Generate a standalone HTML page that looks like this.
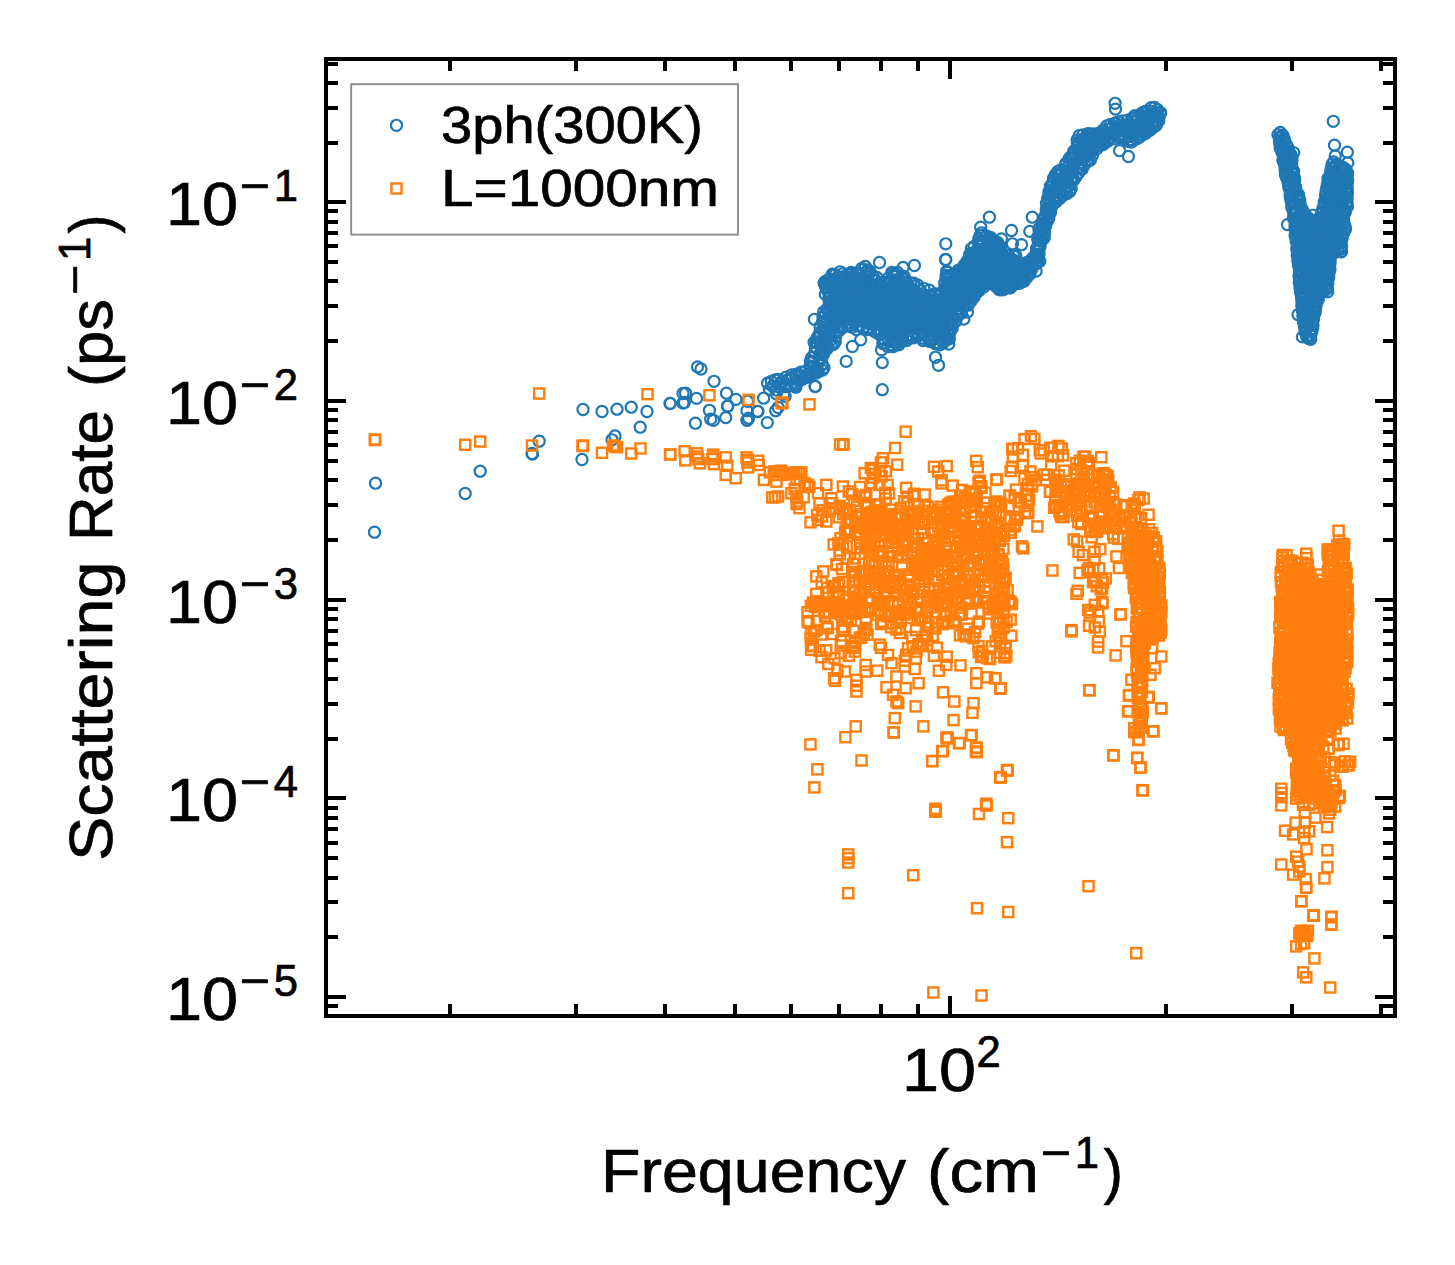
<!DOCTYPE html>
<html><head><meta charset="utf-8"><title>Scattering Rate</title>
<style>
html,body{margin:0;padding:0;background:#fff;}
body{width:1455px;height:1265px;overflow:hidden;}
svg{display:block;}
text{font-family:"Liberation Sans",sans-serif;fill:#000;stroke:#000;stroke-width:0.7px;stroke-linejoin:round;}
</style></head><body>
<svg width="1455" height="1265" viewBox="0 0 1455 1265">
<rect width="1455" height="1265" fill="#fff"/>
<defs><clipPath id="ax"><rect x="326" y="59" width="1069" height="957"/></clipPath></defs>
<g clip-path="url(#ax)">
<defs>
<marker id="mc" markerUnits="userSpaceOnUse" markerWidth="16" markerHeight="16" refX="8" refY="8" viewBox="0 0 16 16" overflow="visible"><circle cx="8" cy="8" r="5.55" fill="none" stroke="#1f77b4" stroke-width="2.2"/></marker>
<marker id="ms" markerUnits="userSpaceOnUse" markerWidth="16" markerHeight="16" refX="8" refY="8" viewBox="0 0 16 16" overflow="visible"><rect x="2.95" y="2.95" width="10.1" height="10.1" fill="none" stroke="#ff7f0e" stroke-width="2.4"/></marker>
</defs>
<path d="M1057.5 196.4 1064.0 191.2 1066.8 188.7 1067.9 183.4 1068.1 182.4 1068.5 181.5 1068.9 180.7 1069.4 179.9 1070.0 179.1 1075.8 172.8 1080.3 165.2 1081.0 164.2 1087.0 156.7 1089.8 150.6 1090.3 149.7 1090.8 149.0 1091.4 148.2 1092.1 147.6 1092.8 147.0 1101.2 141.2 1101.7 140.8 1110.0 135.8 1110.7 135.4 1111.5 135.1 1112.3 134.9 1113.1 134.7 1113.9 134.6 1114.8 134.6 1115.6 134.6 1116.4 134.7 1124.6 136.4 1132.4 137.7 1135.1 136.8 1140.3 132.3 1141.1 131.7 1142.0 131.1 1142.9 130.7 1149.2 128.2 1152.3 124.5 1156.5 117.9 1157.7 113.7 1156.0 111.6 1153.4 110.9 1146.5 113.7 1141.5 117.3 1140.9 117.7 1140.3 118.0 1132.0 122.2 1131.3 122.5 1130.6 122.7 1129.8 122.9 1118.9 125.3 1111.9 128.1 1107.0 130.9 1101.6 134.7 1100.8 135.2 1100.0 135.7 1099.1 136.0 1098.2 136.2 1097.3 136.4 1096.3 136.4 1087.7 136.4 1083.1 137.8 1081.8 139.2 1080.2 146.8 1080.0 147.6 1079.7 148.3 1079.4 149.1 1079.0 149.8 1071.5 161.3 1067.4 168.0 1066.9 168.7 1066.3 169.3 1065.7 169.9 1065.0 170.5 1057.9 175.6 1055.0 182.7 1052.0 194.9 1050.7 203.1 1056.7 197.1ZM1285.3 158.1 1287.8 172.8 1290.8 187.5 1290.9 187.7 1293.3 201.3 1293.4 201.4 1295.2 212.4 1297.0 221.6 1297.1 222.6 1297.5 230.6 1298.7 243.9 1299.1 247.0 1299.2 247.7 1299.3 252.6 1299.6 253.1 1299.8 253.8 1300.0 254.5 1300.2 255.3 1300.6 258.6 1300.6 259.0 1301.9 275.1 1301.9 275.4 1302.5 291.1 1304.3 305.6 1304.3 306.1 1305.2 320.6 1306.7 329.7 1308.2 335.5 1308.6 335.7 1309.4 335.0 1310.3 325.6 1310.3 325.4 1311.6 315.5 1311.8 314.6 1314.2 304.8 1316.4 295.2 1316.6 294.5 1316.9 293.8 1317.2 293.1 1317.6 292.5 1318.1 291.9 1318.6 291.3 1319.2 290.8 1319.8 290.4 1320.4 290.0 1321.1 289.7 1324.2 288.5 1326.2 280.5 1328.6 256.3 1328.8 255.5 1328.9 254.8 1329.2 254.0 1329.6 253.3 1330.0 252.6 1330.5 252.0 1331.0 251.4 1331.6 250.9 1332.3 250.5 1333.0 250.1 1333.7 249.8 1334.5 249.5 1338.0 248.7 1338.9 248.5 1339.0 248.5 1339.0 246.9 1339.0 246.3 1339.0 245.7 1340.0 237.6 1340.1 237.0 1340.3 236.4 1340.7 234.8 1340.9 234.2 1341.2 233.6 1341.5 233.0 1343.2 230.2 1343.2 224.9 1342.8 224.3 1342.4 223.7 1342.1 223.0 1341.8 222.3 1341.6 221.5 1341.5 220.8 1341.2 218.3 1341.2 217.5 1341.3 216.7 1341.4 216.0 1341.6 215.2 1341.8 214.5 1344.9 207.3 1344.9 174.9 1344.6 172.9 1340.1 168.0 1335.5 165.2 1334.6 164.9 1333.3 169.0 1333.3 169.1 1330.4 178.4 1329.3 187.6 1329.2 187.9 1326.8 202.7 1326.6 203.3 1324.2 213.2 1324.0 213.9 1323.7 214.6 1323.4 215.2 1320.9 219.5 1320.5 220.2 1320.0 220.8 1319.4 221.4 1318.8 221.9 1318.2 222.3 1317.5 222.7 1316.8 223.0 1316.0 223.2 1315.3 223.4 1314.5 223.5 1313.7 223.5 1312.9 223.4 1312.1 223.2 1311.4 223.0 1310.7 222.7 1310.0 222.3 1309.3 221.8 1308.7 221.3 1308.2 220.7 1304.5 216.4 1304.0 215.8 1300.6 210.9 1300.1 210.1 1299.7 209.3 1299.4 208.5 1296.7 198.6 1293.3 186.2 1293.0 185.2 1290.6 167.9 1288.9 156.5 1284.6 146.3 1284.6 146.2 1281.2 137.7 1282.2 144.3 1285.2 157.7ZM976.5 286.3 978.6 283.8 979.3 283.1 980.1 282.4 980.9 281.8 981.8 281.3 982.8 280.9 983.8 280.5 990.5 278.9 991.5 278.7 992.5 278.6 993.5 278.6 994.2 278.7 994.7 279.0 995.5 279.5 996.1 280.1 1002.1 285.8 1005.9 285.2 1010.4 281.4 1012.0 280.8 1012.0 280.0 1012.3 279.8 1013.0 279.2 1013.8 278.7 1014.6 278.3 1015.4 278.0 1016.3 277.8 1017.2 277.7 1018.0 277.6 1018.9 277.6 1020.7 277.8 1023.5 275.2 1029.0 269.4 1031.7 263.9 1032.1 263.3 1032.5 262.6 1034.6 259.9 1034.6 259.3 1029.5 264.4 1028.8 265.0 1028.1 265.5 1027.3 266.0 1026.4 266.4 1025.5 266.7 1024.6 266.9 1014.7 268.5 1013.8 268.6 1012.9 268.6 1012.0 268.6 1012.0 268.6 1012.0 260.0 1002.8 260.0 999.3 254.5 998.7 253.5 998.3 252.5 995.9 245.1 990.4 240.9 982.6 237.7 982.2 240.7 982.1 241.6 981.9 242.4 981.6 243.2 981.2 243.9 980.8 244.6 980.3 245.3 974.5 252.5 971.0 262.0 970.6 262.4 970.4 263.7 970.0 264.5 969.7 265.3 969.2 266.1 968.7 266.9 968.1 267.6 967.4 268.2 959.1 275.2 958.3 275.8 957.5 276.3 956.6 276.7 955.7 277.0 954.7 277.2 949.0 278.1 949.0 291.1 949.0 291.1 945.1 295.0 944.4 295.6 943.6 296.2 942.7 296.7 941.8 297.2 940.9 297.5 940.0 297.7 939.0 297.9 938.0 297.9 937.1 297.9 936.1 297.7 935.1 297.5 926.8 295.0 926.0 294.7 925.2 294.4 916.9 290.2 916.5 290.0 908.2 285.3 907.5 284.9 902.5 281.6 901.7 281.0 900.9 280.3 900.2 279.5 899.6 278.6 899.0 277.7 893.2 280.0 887.7 284.4 886.9 285.0 886.1 285.5 885.2 285.9 884.3 286.2 883.3 286.4 882.4 286.6 881.4 286.6 880.4 286.6 879.4 286.4 878.5 286.2 877.6 285.8 876.7 285.4 875.9 284.9 875.1 284.3 874.4 283.7 873.7 282.9 866.3 273.9 864.6 271.9 864.3 271.8 860.7 274.4 859.8 275.0 858.8 275.5 857.8 275.8 856.8 276.1 848.5 277.8 847.5 277.9 846.5 278.0 845.4 277.9 838.6 277.2 832.4 279.4 830.7 280.4 829.1 284.1 832.6 297.4 832.8 298.4 832.9 299.5 832.9 300.5 832.8 301.6 832.5 302.6 832.2 303.6 829.2 311.0 827.4 320.8 827.2 321.7 826.9 322.6 823.5 331.5 819.2 345.1 819.2 345.1 819.2 346.1 818.9 353.9 818.8 355.0 818.8 355.0 819.3 353.5 819.6 352.6 820.0 351.7 820.5 350.9 821.1 350.2 821.7 349.5 822.4 348.8 827.9 344.3 830.6 340.9 830.5 340.7 830.5 339.7 830.6 338.7 830.8 337.7 831.1 336.7 831.4 335.8 831.9 334.9 832.5 334.1 838.5 325.9 839.1 325.2 839.8 324.5 840.5 323.9 841.3 323.3 842.1 322.9 843.0 322.5 843.9 322.2 844.9 322.0 845.8 321.9 846.8 321.8 847.7 321.9 848.7 322.1 849.6 322.3 855.2 324.1 867.4 325.2 867.9 325.3 877.1 326.6 878.0 326.8 879.0 327.1 879.9 327.4 880.7 327.9 881.5 328.4 882.3 329.0 883.0 329.7 883.6 330.4 884.1 331.2 884.6 332.1 885.0 333.0 885.3 333.9 885.5 334.8 886.6 341.5 887.6 341.5 893.1 340.9 897.8 338.0 898.6 337.5 899.4 337.2 900.2 336.9 910.2 333.9 911.1 333.7 912.1 333.5 913.1 333.5 924.7 333.5 925.6 333.5 926.6 333.6 927.5 333.9 928.4 334.2 929.2 334.5 930.0 335.0 930.8 335.5 931.5 336.1 932.2 336.8 935.5 340.5 937.1 341.6 939.1 341.7 940.6 340.7 944.8 337.5 946.9 327.8 947.1 326.9 947.4 326.0 951.2 316.8 951.7 315.9 952.2 315.0 952.9 314.1 953.6 313.4 954.4 312.7 955.3 312.1 962.8 307.6 967.5 301.6 970.3 294.5 970.7 293.6 971.3 292.7 971.9 291.8 972.5 291.1 974.2 291.1ZM816.2 368.0 816.8 367.7 818.5 365.6 817.9 360.8 817.9 359.7 817.9 358.7 818.1 357.7 818.1 357.6 817.9 358.1 815.9 362.0 815.4 364.4 815.2 365.3 814.9 366.3 814.4 367.1 813.9 368.0 813.3 368.8 812.7 369.5 809.3 372.9 809.9 372.6 815.4 368.5ZM792.7 381.2 793.6 381.4 794.1 381.5 795.1 380.8 796.4 379.6 797.5 378.7 798.7 377.7 796.6 378.4 790.0 381.0 790.0 381.3 790.8 381.2 791.7 381.2Z" fill="#1f77b4" stroke="#1f77b4" stroke-width="1"/>
<polyline points="1327.3,263.4 1347.2,190.3 1297.2,255.4 1111.9,127.2 1291.7,164.2 1081.5,164.4 1347.4,193.5 1055.3,188.5 958.0,274.6 947.3,339.3 1340.7,242.6 817.4,370.5 888.4,326.0 1327.9,178.5 830.3,335.3 917.4,293.4 1296.2,237.9 1070.2,173.4 975.5,293.3 899.0,335.9 1044.4,221.8 1294.9,192.0 882.9,338.8 1022.8,264.6 988.5,243.2 924.6,334.5 1293.3,201.2 928.3,329.0 1007.5,274.1 1014.0,278.5 892.9,346.6 1293.2,174.2 1285.2,170.9 1049.7,204.3 1077.8,168.1 1279.3,137.9 1006.2,254.9 818.2,371.7 1077.1,139.9 1299.4,269.3 894.2,340.0 981.7,263.1 1304.8,280.7 841.3,328.6 1334.6,195.5 929.1,295.5 993.9,257.8 1347.6,173.2 836.7,298.4 950.7,294.4 956.0,273.4 1049.7,209.6 1321.5,214.0 1297.3,198.3 1160.3,113.3 1287.3,172.1 1316.1,224.5 1015.3,283.9 816.9,337.9 1333.1,203.8 1015.8,255.6 969.0,259.5 955.2,276.3 825.5,337.0 964.6,300.9 882.0,290.1 1138.5,134.8 850.9,276.9 1296.7,240.2 1282.7,135.2 1328.5,184.6 806.3,375.6 950.6,283.3 1299.0,276.1 1039.5,233.2 1082.9,134.8 876.9,277.4 791.7,374.8 1279.4,140.9 1287.9,181.1 865.3,266.4 1046.5,213.0 1073.7,180.0 942.0,292.1 1307.0,302.0 1131.6,142.0 798.9,374.6 964.7,264.4 972.1,270.9 1026.6,267.9 969.4,276.1 1328.7,277.0 967.4,312.0 1300.1,204.3 810.0,366.0 1338.1,208.1 896.4,339.7 861.9,268.3 1346.2,203.0 1039.0,249.5 1324.2,202.0 977.6,288.2 1299.5,239.2 1302.1,262.4 1301.6,244.9 1330.0,269.6 1291.7,157.5 1307.4,274.9 1288.2,152.1 974.1,288.2 1101.5,141.3 884.1,291.5 1113.3,131.4 1319.4,292.3 1122.1,130.0 1299.0,234.3 1057.3,195.3 1341.3,175.2 1156.3,120.7 992.3,277.4 975.3,293.9 1301.8,257.4 875.5,280.5 914.8,328.7 1279.7,143.8 1303.7,320.2 962.9,274.6 856.9,321.2 948.8,276.3 1306.4,308.4 1047.5,198.8 1336.2,171.5 872.0,287.1 848.0,322.8 951.7,275.1 943.5,337.4 1043.0,228.2 879.7,282.6 1315.3,309.1 1340.1,188.0 1044.6,216.6 895.1,280.0 837.7,330.7 821.6,351.7 1298.0,261.0 891.3,280.3 1098.3,133.6 1295.4,231.4 1037.0,247.9 1061.5,173.0 1297.3,251.3 812.7,373.5 1339.4,223.4 988.4,262.0 948.9,289.9 1324.6,270.3 847.5,279.3 1343.5,217.6 1324.4,215.7 1026.3,270.2 1291.8,207.5 1084.5,164.8 968.3,261.2 945.3,340.5 1127.7,120.1 1343.1,201.8 1095.7,145.0 795.6,374.4 960.6,271.9 937.7,334.2 949.3,295.0 1293.3,210.7 945.5,287.1 832.6,288.7 1299.2,254.3 1329.6,266.0 1339.7,166.2 1280.2,147.9 810.3,360.9 830.2,316.8 1331.3,190.1 968.9,265.9 831.1,339.8 825.0,321.0 991.4,241.7 1053.7,178.3 1134.0,134.2 1341.6,205.7 872.0,278.5 961.5,312.8 849.0,326.2 1131.5,124.8 1344.1,170.0 1030.0,274.0 1301.7,299.3 1302.3,309.9 1029.2,268.6 1047.0,221.7 1051.6,186.3 1305.8,222.7 1135.0,121.1 829.4,283.2 1112.4,133.8 1281.8,135.9 1347.6,179.7 971.4,292.6 841.7,325.7 1110.7,133.3 1328.6,181.3 1281.6,151.6 868.0,269.9 1087.3,153.2 933.0,339.0 1339.2,193.5 857.8,325.8 1045.6,226.1 1039.1,254.0 967.9,264.2 1157.6,109.7 1334.5,248.1 825.5,282.3 847.2,283.3 1303.8,307.4 975.4,256.8 1291.9,167.7 965.9,292.8 1336.7,235.3 1307.8,271.8 837.1,307.1 930.3,341.7 1292.2,196.7 905.5,280.0 900.8,339.2 923.0,338.3 1330.2,175.1 980.5,281.0 1088.8,146.3 1295.1,225.3 1322.3,282.0 1291.4,188.6 1316.3,302.8 969.5,286.1 1327.1,207.8 999.8,247.6 876.1,289.7 897.1,275.0 833.5,344.4 1303.7,220.2 960.6,288.6 1290.2,194.5 981.6,232.8 1156.3,125.3 1092.0,133.8 1288.1,166.8 1319.3,217.9 1008.9,255.8 1346.9,203.7 1327.0,261.2 829.5,336.3 825.8,286.6 979.8,288.3 1288.8,151.0 971.0,270.4 908.6,285.7 1137.4,127.0 1044.2,236.9 947.5,286.8 838.1,276.7 999.9,256.0 968.1,305.2 1311.3,310.8 834.7,321.5 1303.4,226.0 1087.5,161.4 1131.1,139.7 1135.3,129.4 1003.1,270.8 1300.8,225.9 1015.1,261.0 1316.0,306.1 1024.8,279.4 1000.8,289.0 1091.2,144.0 1304.1,213.0 1087.9,159.8 1318.5,295.6 851.2,272.4 846.7,325.5 1335.1,182.2 836.4,284.0 948.9,334.6 820.1,326.5 1066.0,163.1 1071.9,179.3 1308.8,338.5 984.5,275.1 1343.7,167.6 861.0,269.8 1321.1,290.1 1344.7,180.9 982.6,234.9 1343.3,220.8 1318.3,227.7 1330.0,185.7 980.7,276.5 864.1,320.5 1284.2,150.1 882.0,283.8 954.3,290.9 998.4,243.9 1303.1,282.1 1039.2,231.7 1055.1,190.0 925.7,297.1 1088.0,137.8 1333.3,242.1 1331.4,167.8 947.7,293.5 1325.5,198.6 1337.0,164.4 1300.1,288.3 1081.2,150.7 976.4,292.1 969.9,256.2 786.1,377.1 1071.5,156.3 1332.1,176.9 1289.5,177.4 786.1,386.7 1010.6,263.1 1307.8,321.9 954.7,280.8 996.6,250.5 847.9,274.4 1346.7,177.4 1156.8,113.1 1004.8,288.1 822.9,331.3 929.6,333.8 1318.6,286.5 990.5,237.5 967.7,303.3 1139.1,137.3 1283.3,153.4 1073.2,179.1 1142.5,112.8 974.3,266.7 1329.0,272.9 888.0,346.7 1003.8,261.2 892.3,274.3 937.2,337.4 914.0,290.9 979.4,283.1 993.4,255.6 1321.5,273.9 874.4,322.0 961.2,275.9 1097.1,148.5 1093.5,137.3 835.3,341.8 1069.9,190.3 943.6,326.0 1304.7,249.8 1303.9,231.5 1296.9,231.1 879.1,323.7 837.8,318.6 999.1,286.1 786.7,380.1 1318.3,299.6 1330.8,171.3 1072.3,164.5 1335.4,166.7 1056.1,201.8 1046.6,212.4 822.1,364.0 854.7,279.9 1028.4,262.7 963.9,304.7 1103.5,144.4 975.7,265.5 828.8,298.0 1327.9,279.7 1046.2,209.4 1338.0,250.0 929.0,339.5 1115.5,123.8 1002.5,281.5 1151.5,111.3 1015.2,272.3 1103.7,133.3 969.8,254.1 1139.7,124.8 1311.7,298.2 1289.8,184.8 1337.4,249.7 946.2,278.2 1326.0,191.5 1294.5,188.4 831.5,327.8 1303.0,266.3 957.7,280.6 949.2,328.7 1092.8,137.1 1295.1,228.1 1296.2,213.8 835.7,336.6 1067.3,173.6 1319.9,285.5 962.9,269.3 1131.1,126.9 1060.3,192.4 1338.6,217.3 840.2,319.9 1324.0,251.7 1142.6,113.0 1285.4,174.4 1038.0,240.3 816.0,368.4 873.8,331.1 1332.0,173.2 866.8,319.5 985.5,279.2 975.7,266.2 1009.6,286.3 1288.5,180.7 974.0,261.1 1342.1,226.3 995.7,264.1 1005.2,260.9 1317.1,223.9 1292.7,170.1 967.4,266.6 834.2,292.3 898.4,286.6 1021.9,280.2 998.2,278.4 1016.8,281.7 985.3,279.1 1067.3,186.4 1150.2,130.1 956.7,314.0 815.4,346.6 1151.9,125.2 888.1,339.3 1042.4,225.0 1018.6,264.2 969.0,288.4 999.7,262.6 1296.9,248.5 971.1,301.0 1304.1,299.1 990.7,248.5 882.8,343.5 987.6,264.3 999.3,276.8 828.1,281.7 1344.6,197.5 1295.9,203.3 999.2,265.9 812.6,361.6 989.4,283.8 952.3,325.2 1110.5,124.5 858.6,273.1 994.2,283.6 977.3,290.1 1144.3,112.1 1327.6,184.1 978.7,243.7 1114.8,129.8 842.7,273.7 1289.3,164.3 1328.3,219.0 1310.3,295.0 1067.1,180.9 1313.8,315.8 1013.9,256.1 1062.3,179.4 1143.2,125.0 1297.5,245.5 835.4,301.4 1084.2,156.9 1347.3,183.1 856.3,329.6 978.4,276.3 1020.2,280.5 1156.2,122.4 1316.8,220.4 969.3,257.5 814.8,352.9 1328.8,252.2 1042.5,237.2 1035.5,256.8 1080.4,163.2 990.5,276.2 1323.0,291.9 945.0,328.5 1290.3,197.0 1314.5,221.7 1303.1,234.4 805.5,377.6 1324.1,205.0 1333.0,252.9 1120.1,138.0 1145.9,133.4 1020.9,270.7 1001.7,252.5 827.1,322.3 976.0,251.1 1092.7,150.9 1154.4,107.5 1295.7,187.6 969.2,271.7 959.5,305.7 892.4,345.0 1338.7,239.0 1322.1,223.2 822.5,322.1 1092.7,148.1 1332.2,164.2 1046.9,220.1 1124.5,138.4 1051.9,206.3 1306.0,311.9 1077.9,149.8 1329.2,177.4 1331.5,194.8 1012.9,283.3 809.4,373.3 982.4,262.4 1298.5,265.4 999.3,246.1 1038.2,257.4 1286.1,144.3 1304.5,268.9 869.9,323.8 810.7,367.1 1301.9,306.2 977.3,278.9 1335.2,252.3 1134.8,115.7 832.9,275.2 978.1,260.5 1092.4,155.2 835.0,274.9 1288.2,159.3 1304.1,285.7 1082.2,169.1 1055.5,201.8 971.3,248.8 832.7,288.0 1010.9,282.4 825.0,350.5 1048.8,218.6 841.7,327.3 1124.2,138.1 972.8,287.3 1304.5,241.1 1305.6,277.0 945.0,289.0 1144.1,133.1 1345.4,229.5 840.1,271.8 1283.0,154.8 989.8,238.5 969.2,258.4 1036.5,248.7 1305.5,330.5 1108.3,129.5 906.2,282.4 1341.2,191.5 1013.9,276.1 795.8,385.4 956.0,286.7 1011.5,281.9 1331.2,201.3 1059.3,198.9 978.5,276.5 1002.1,286.2 1005.0,263.5 1304.7,259.8 981.4,242.9 877.8,330.4 1128.1,136.8 992.9,240.7 883.8,282.1 888.6,333.3 1071.2,181.9 1087.9,133.6 1038.4,245.7 784.9,384.0 1330.2,259.9 849.5,273.7 1330.2,254.1 854.4,322.7 887.8,278.4 985.1,276.3 1343.0,194.9 1159.1,117.1 1293.4,218.2 1011.8,280.7 1303.1,316.6 822.7,347.7 1012.3,268.8 972.7,294.2 990.2,273.5 958.6,315.2 945.0,298.5 1304.5,326.5 970.7,298.4 791.0,385.7 886.0,287.6 959.7,286.0 820.0,353.6 1064.0,189.8 1052.6,182.7 1017.2,268.2 917.5,284.9 1107.9,140.7 956.5,314.6 1017.4,277.5 1300.1,285.1 974.0,246.4 1311.1,330.7 1304.6,312.9 1062.6,195.8 1073.8,151.3 1044.7,232.7 829.3,301.4 1303.0,315.7 993.2,245.2 822.9,317.0 1323.0,212.4 1284.2,138.6 1285.0,164.9 959.2,293.8 948.4,309.8 911.3,335.1 829.5,298.0 1340.7,249.2 927.6,337.7 1294.7,179.9 963.9,277.6 873.9,324.9 1308.7,218.6 1299.8,272.0 873.1,276.2 1339.8,202.0 1340.6,179.2 852.7,279.5 1295.4,209.6 1087.0,155.5 980.4,245.0 1090.4,160.1 966.8,289.8 1079.1,135.7 995.5,283.5 825.4,314.0 944.6,283.0 1284.2,163.1 979.2,288.0 1004.1,279.4 916.6,328.7 1326.6,289.4 1300.8,207.6 971.1,261.5 931.4,297.0 1034.9,264.7 1035.8,254.6 1122.4,136.9 822.2,364.9 827.8,291.2 1115.3,122.9 1293.6,171.1 971.3,282.4 1308.9,218.6 880.1,283.8 1014.8,265.9 825.3,294.4 1136.5,138.9 1000.1,251.2 1282.9,160.3 1077.4,143.8 866.1,279.4 1293.7,213.8 1145.5,117.2 1325.8,218.7 1311.0,304.1 866.1,272.5 1295.6,220.4 1036.4,255.5 1294.6,184.6 907.0,335.7 1333.2,168.4 1347.1,197.7 1325.7,195.1 1291.1,201.1 1280.3,132.4 1298.3,194.1 1076.9,147.4 1285.0,167.8 1015.7,281.9 1067.4,179.7 1342.2,167.9 1014.9,271.5 1132.7,117.7 825.0,326.9 1095.2,134.2 957.9,308.4 1098.5,142.4 832.3,274.1 1310.9,220.5 1002.9,276.1 966.3,288.7 979.2,282.8 966.6,268.2 1307.1,337.2 918.5,334.3 1048.4,213.4 837.6,305.7 942.1,299.6 811.6,357.6 1299.3,236.8 1145.9,111.1 1079.2,153.7 1122.6,120.8 1142.2,135.1 997.4,242.3 1003.1,258.3 1002.7,289.4 1299.8,200.0 931.0,341.2 833.5,326.4 1301.9,275.7 1313.0,325.4 825.6,342.0 849.6,319.2 1323.6,259.0 985.3,237.1 1339.8,220.8 816.2,347.7 1329.7,197.0 821.1,358.4 1013.3,260.1 1060.9,182.6 1076.2,176.5 951.1,290.8 952.2,309.6 946.4,279.1 1069.4,164.0 1011.1,274.8 1014.2,270.6 1001.7,255.2 885.0,333.8 1304.1,322.6 1138.7,130.5 1284.4,140.8 1287.7,159.1 1160.7,112.7 1341.9,239.1 841.2,320.9 861.0,275.1 953.5,286.6 1345.3,211.0 1292.2,204.0 1106.7,125.9 1046.8,213.1 1039.1,236.2 1105.1,142.2 990.6,278.7 825.5,285.9 906.7,340.5 904.4,279.3 935.5,294.5 908.6,338.0 1050.3,186.1 869.4,273.5 952.1,328.5 1299.9,279.3 887.4,331.0 954.1,292.2 826.9,345.7 942.0,303.0 1303.4,256.0 1322.9,208.4 883.5,287.2 1060.9,193.8 1048.9,191.8 936.4,342.5 870.1,283.4 958.7,276.6 876.9,332.8 1306.5,327.3 943.1,342.7 925.2,295.3 971.1,286.0 1310.6,335.3 1327.3,287.1 965.2,271.6 946.9,291.9 1055.1,198.1 1345.7,184.2 937.1,299.9 884.0,325.8 929.3,290.1 1326.4,213.6 820.4,345.4 1135.3,121.2 1006.0,267.5 1058.8,182.0 1084.8,142.3 1290.8,154.5 1287.7,147.3 1326.3,284.6 830.1,296.0 1069.5,185.5 1320.8,227.1 1330.5,249.9 1049.9,198.0 835.8,333.1 978.7,239.2 1118.5,121.9 984.0,286.7 1307.3,226.1 955.8,321.3 1121.8,128.5 1341.7,215.0 1332.8,179.3 862.9,328.2 802.7,379.1 1302.1,303.2 1057.6,171.8 1307.6,313.7 1078.5,172.9 1013.1,275.1 939.9,344.9 1003.0,289.9 1315.2,312.4 1010.7,267.2 1007.8,277.9 1297.9,258.5 1048.7,204.7 1305.3,293.1 1281.6,148.0 857.6,273.3 913.8,283.2 958.0,270.4 986.9,236.2 1294.5,177.8 1021.2,276.5 967.8,289.1 805.2,371.5 1345.5,187.7 829.7,278.9 963.6,293.8 1322.3,211.7 1305.3,297.4 859.7,278.6 829.8,311.4 1341.6,246.4 1301.5,217.0 1316.1,291.5 1003.7,282.5 964.4,288.8 1080.8,149.0 1309.2,317.6 1326.0,256.1 1333.7,162.0 1334.1,236.6 1146.7,125.2 955.0,276.5 1072.1,159.1 1300.8,279.3 1299.0,260.2 1110.0,138.2 939.5,333.7 1345.3,226.9 1101.1,145.0 1150.8,114.0 986.5,254.3 1054.0,177.7 1014.6,265.4 1335.5,178.0 1050.5,212.5 1344.1,223.6 1104.5,135.6 1320.0,228.2 839.5,330.3 992.6,281.3 991.8,281.2 1128.0,141.4 1070.8,168.9 1025.5,268.5 1342.7,182.8 881.1,330.8 1302.6,288.2 1155.2,116.9 1311.7,332.0 879.8,334.5 960.3,301.8 939.2,304.0 1344.9,228.7 1142.2,125.5 948.3,286.7 1149.2,118.8 1307.5,284.0 950.3,282.5 1008.0,286.8 1141.6,117.4 1123.3,130.2 998.2,284.2 984.3,279.3 1040.6,238.1 996.6,287.1 1338.7,184.1 980.0,255.2 1000.6,248.6 823.5,354.5 809.5,375.8 1132.8,119.2 1009.1,278.9 1303.1,313.1 903.1,331.1 952.3,293.3 906.5,289.4 870.2,271.6 1005.9,266.4 1305.1,330.0 1343.5,212.4 1142.2,132.0 1086.3,136.2 965.2,293.0 1055.4,174.8 809.2,376.8 866.9,323.1 978.1,281.0 1309.6,325.7 934.5,293.6 1035.0,259.5 950.9,318.4 1114.5,138.8 908.3,288.1 1322.1,221.0 1302.2,209.6 1057.5,174.3 947.5,320.7 987.7,281.1 843.8,317.0 796.0,376.5 1286.3,177.1 1311.9,223.4 891.2,341.6 1343.8,232.7 1345.6,174.1 920.4,290.4 977.2,261.0 820.0,332.1 1301.3,263.6 1076.2,160.9 917.6,336.3 945.4,335.8 826.1,288.1 1313.5,319.0 884.4,339.2 898.5,341.9 971.9,258.6 986.5,261.1 939.8,295.6 1339.2,176.3 1305.4,215.3 1300.6,291.9 816.8,342.3 1147.5,129.6 1072.5,170.8 951.1,316.0 953.1,280.2 1313.5,224.7 979.3,290.6 867.6,329.6 1089.0,134.1 826.9,309.8 1040.1,245.9 1140.4,114.6 1340.3,170.7 1000.5,286.0 823.6,311.9 1303.5,322.1 962.6,267.7 1315.4,301.0 791.1,379.1 1036.8,248.6 949.4,338.8 913.4,337.8 928.8,301.4 995.7,256.9 910.7,283.0 982.8,256.3 962.9,280.8 1060.0,186.7 1301.4,237.0 886.1,282.4 827.8,333.1 1126.0,125.5 1100.3,132.6 1329.6,191.9 1298.3,217.5 1073.3,154.1 1001.5,284.0 1107.5,141.4 1033.3,257.5 824.0,351.3 813.3,361.3 1282.9,141.9 1026.3,262.7 1335.8,243.6 1061.3,169.7 1307.3,289.6 1305.9,215.6 1007.0,268.9 798.2,380.8 1049.0,194.6 1328.5,276.9 800.7,372.1 1126.1,124.6 1004.1,257.7 980.0,235.5 1089.8,151.8 868.6,327.9 1315.1,307.4 1009.7,258.3 838.8,281.6 1066.8,193.5 973.5,254.4 1311.1,315.1 1283.8,158.1 999.8,261.9 1031.7,266.0 1293.5,180.8 1289.9,190.6 1299.4,247.0 1083.1,140.1 1328.0,199.3 1305.6,319.3 830.8,306.3 999.8,264.6 1307.8,290.2 1046.5,203.3 954.3,295.5 991.2,275.4 1015.6,270.4 824.1,367.7 1080.7,159.3 1069.3,165.1 816.0,342.7 1312.2,322.9 1081.0,139.6 1041.1,241.0 826.8,329.7 1000.2,274.9 1007.2,284.8 1027.0,277.2 894.5,275.2 1329.5,203.4 1326.9,267.5 940.2,294.8 859.7,325.4 1327.6,283.9 1296.0,190.6 983.2,282.5 1347.0,187.1 896.7,344.0 1083.6,149.2 1347.5,206.8 1341.7,197.5 975.9,291.1 1326.8,279.3 1298.8,201.6 1011.6,284.1 852.2,327.4 816.0,373.0 993.5,252.3 981.3,285.5 1118.6,135.0 1001.5,277.6 831.3,344.7 1058.3,171.4 866.1,283.7 949.7,332.7 1067.5,171.9 966.0,281.0 965.2,266.2 1121.2,125.1 1149.1,116.3 981.7,249.7 1323.6,264.6 1299.3,282.7 993.3,239.9 943.1,341.7 946.2,275.5 1312.6,328.6 952.9,286.1 1342.8,209.0 801.1,379.7 1098.3,137.7 1120.3,128.1 1309.1,297.3 965.8,266.5 819.1,335.2 1069.4,158.2 1302.6,229.6 1337.5,220.9 994.7,253.0 951.0,323.3 1038.9,228.7 1306.7,336.4 1064.8,176.0 1295.1,235.4 1057.9,180.3 1330.0,263.4 964.0,272.9 969.2,294.5 944.9,294.4 1030.1,260.7 902.3,285.6 1151.1,107.6 1303.4,251.6 995.2,259.6 1346.4,192.0 1305.3,332.7 827.2,308.9 827.4,348.5 894.2,276.5 1344.6,213.3 1131.6,131.1 980.0,259.5 1346.0,169.8 1288.8,187.3 1031.5,269.4 845.2,275.9 1286.5,158.5 1008.1,261.2 1072.0,167.0 903.9,276.3 867.6,284.2 796.7,383.2 828.2,279.7 1301.7,222.3 1080.7,169.0 1298.8,198.4 957.5,278.7 1314.4,297.3 985.7,248.1 902.2,341.1 1301.3,295.2 884.2,342.9 1014.8,277.0 1152.4,124.2 1347.0,201.3 1103.2,130.0 1298.6,196.3 971.4,253.4 981.9,240.7 1337.5,243.2 967.2,261.0 1044.2,225.9 1026.0,272.8 1304.7,325.2 1065.8,192.9 1301.4,208.1 1053.5,182.6 897.6,272.5 818.7,362.6 917.5,335.5 1031.7,262.8 1153.8,127.1 832.8,314.2 1277.9,134.6 829.3,302.7 999.7,288.1 1037.8,261.2 1301.4,211.6 1294.9,186.1 1139.2,137.1 976.5,292.4 1098.5,145.6 1298.7,243.7 818.2,336.9 822.5,344.5 1294.7,220.6 973.9,297.4 1285.9,154.5 1071.2,188.4 1316.8,298.7 1327.0,212.9 1288.6,184.0 1335.8,239.4 935.6,343.8 1000.4,252.9 1051.4,190.7 1329.0,182.2 1325.4,272.5 1279.6,137.3 997.2,281.2 1326.8,187.5 832.6,326.6 1296.1,241.1 1313.1,308.0 1296.3,222.9 1065.5,165.4 994.7,274.7 1324.1,286.9 1305.0,266.3 914.0,285.8 891.4,286.5 956.7,286.8 1079.3,144.2 1141.0,116.4 1311.6,293.2 1291.9,160.3 1299.5,219.1 964.0,306.4 946.3,291.3 1036.6,262.0 961.2,287.1 923.8,288.3 1345.2,211.3 971.1,275.1 1147.7,126.6 953.5,279.4 1300.5,271.3 1342.2,236.9 1020.0,281.6 1325.4,277.8 1050.2,193.0 1012.3,262.0 960.7,289.7 1158.7,120.9 1330.8,255.5 1037.6,237.3 1028.0,274.4 1339.1,230.4 967.9,273.0 899.3,280.5 1144.6,121.4 1341.0,247.3 879.5,262.5 891.8,272.5 903.1,267.5 914.4,265.5 947.2,272.5 945.5,259.5 963.8,319.0 948.8,344.0 935.5,357.3 938.5,365.3 923.0,340.6 898.9,344.8 893.1,346.5 881.5,349.8 882.3,362.6 860.7,339.8 852.4,346.5 846.2,361.4 882.3,389.7 815.3,386.4 795.8,387.2 822.4,370.1 814.1,342.3 814.4,319.4 824.1,283.3 824.9,281.6 1000.4,289.9 1010.4,287.9 1019.5,283.3 996.2,285.8 989.4,217.2 1032.3,217.2 1011.5,230.5 1029.8,231.4 1012.4,243.8 1021.5,244.7 945.8,243.8 945.8,259.6 946.7,271.3 1115.1,103.3 1115.5,109.1 1128.4,156.5 1119.6,150.7 1069.7,191.5 1044.0,238.0 1039.8,261.3 1036.1,271.0 1024.0,281.3 1009.9,287.9 999.0,289.6 980.7,227.2 1001.5,238.9 670.4,403.4 684.4,402.5 685.6,393.2 696.5,398.4 697.5,366.9 701.0,369.0 714.0,381.3 709.4,410.3 695.4,423.2 710.7,419.1 713.5,420.3 726.5,393.2 727.5,406.3 727.8,406.0 725.7,417.6 735.9,399.4 747.6,401.3 746.9,410.7 746.9,420.1 747.3,420.3 748.6,418.2 757.6,411.3 757.9,411.5 763.6,398.2 767.3,422.6 775.7,410.7 778.2,407.5 767.6,383.2 771.3,381.3 775.1,380.0 778.2,379.4 772.6,386.3 776.3,390.0 780.1,387.5 783.8,393.8 785.1,396.3 776.3,393.8 769.5,389.4 780.1,383.2 783.2,381.3 815.1,386.5 375.5,483.2 374.5,532.2 465.2,493.5 480.2,471.2 532.0,453.5 532.5,454.0 539.2,441.2 583.0,409.5 582.0,459.5 602.0,411.5 617.0,409.2 631.2,407.2 647.0,411.5 640.2,427.2 615.0,436.0 612.0,439.8 670.0,403.5 683.0,393.5 683.0,403.0 1333.3,121.3 1334.5,145.2 1347.3,152.2 1335.2,155.9 1347.8,162.8 1287.5,224.6 1312.9,215.3 1312.3,223.7 1341.3,251.5 1293.7,152.6 1341.3,251.9 1327.7,283.7 1327.7,291.8 1298.0,314.6 1302.4,336.9 1310.7,339.4" fill="none" stroke="none" marker-start="url(#mc)" marker-mid="url(#mc)" marker-end="url(#mc)"/>
<path d="M1286.0 566.3 1286.0 586.1 1286.9 594.4 1284.5 607.4 1284.4 613.3 1289.1 620.3 1284.2 630.9 1284.2 650.0 1284.1 650.0 1284.2 652.3 1283.3 672.4 1283.3 683.7 1284.7 692.1 1283.1 700.3 1283.2 710.8 1285.2 713.4 1285.2 724.6 1296.2 724.6 1296.8 729.0 1300.4 729.0 1303.4 763.4 1302.7 788.4 1311.3 788.4 1312.2 763.2 1314.0 738.3 1314.5 729.2 1330.1 725.7 1330.7 717.1 1342.5 714.6 1342.7 711.4 1342.7 692.5 1342.7 692.3 1337.5 690.8 1337.5 670.1 1341.9 667.6 1341.9 636.3 1341.1 621.9 1342.8 617.9 1342.8 609.7 1341.9 603.5 1341.9 579.5 1341.1 567.8 1339.0 562.6 1338.9 553.3 1333.2 553.3 1333.4 561.7 1333.8 589.2 1307.5 589.2 1306.2 575.2 1303.5 567.9 1291.6 567.9 1291.3 566.3ZM1136.3 568.2 1137.9 584.6 1142.1 601.5 1142.6 610.6 1141.7 632.1 1141.3 640.5 1152.7 633.1 1156.5 630.8 1156.6 627.6 1156.6 627.6 1156.6 625.1 1156.4 621.1 1155.8 603.4 1155.0 586.8 1154.2 570.7 1151.7 554.3 1149.9 536.2 1147.7 535.0 1135.4 536.1 1131.8 539.1 1133.0 551.6Z" fill="#ff7f0e" stroke="#ff7f0e" stroke-width="1"/>
<polyline points="879.6,504.4 937.6,541.8 896.3,629.5 876.2,572.3 892.1,535.6 926.5,565.8 990.6,570.4 956.0,506.4 847.4,558.0 832.4,605.7 928.5,601.6 843.7,629.6 962.6,550.3 907.4,520.6 882.1,563.4 962.8,517.7 855.4,522.9 990.9,549.5 885.4,595.7 962.8,519.3 960.0,635.4 965.3,497.8 940.8,557.1 894.8,595.2 990.8,536.1 984.6,508.2 875.3,587.9 982.9,560.8 921.5,574.3 953.5,520.3 899.2,535.6 883.9,593.9 892.1,552.2 821.3,634.5 1002.7,564.3 827.6,628.3 815.3,606.6 967.3,576.0 994.3,570.0 927.1,571.6 958.8,602.1 871.2,541.1 931.6,570.9 971.5,613.6 860.2,573.5 928.9,566.1 919.9,568.4 974.7,582.2 859.8,638.0 939.2,553.3 924.2,523.9 961.5,581.5 844.2,608.7 852.6,647.8 931.9,517.7 940.6,595.1 913.2,515.0 928.2,627.2 907.4,545.0 949.5,530.9 864.8,528.9 923.0,559.6 975.3,511.9 812.9,646.2 826.2,650.3 977.0,499.6 832.6,634.0 853.9,500.7 869.6,579.0 877.6,510.5 999.3,599.7 858.3,517.1 854.2,576.2 855.3,630.9 979.6,586.9 993.0,560.4 923.0,646.2 901.2,516.4 852.9,609.0 888.4,564.8 945.0,540.9 877.8,614.7 896.6,592.3 853.8,613.6 834.8,586.0 969.6,635.7 897.0,611.5 946.1,615.9 990.8,560.3 969.8,491.4 884.4,524.6 966.5,501.0 947.8,560.4 846.7,521.8 868.8,548.6 842.6,608.4 970.4,563.0 926.6,559.1 888.3,530.6 960.8,591.6 924.9,505.8 951.7,503.2 999.4,505.8 859.9,594.1 944.0,534.0 970.3,574.8 852.4,605.0 977.0,541.3 839.7,550.5 916.2,607.8 956.3,601.8 879.8,512.1 881.6,551.3 907.8,579.9 951.3,528.2 853.6,598.0 882.9,527.8 855.6,610.7 855.5,640.9 880.8,533.5 990.1,512.3 955.9,592.0 885.5,566.5 920.6,608.3 880.9,647.8 999.8,573.1 969.9,507.2 991.7,533.1 943.1,605.6 915.5,560.6 972.3,499.5 846.1,513.0 911.7,512.7 963.3,519.6 924.6,573.7 835.6,508.8 928.5,565.8 853.1,564.1 981.4,511.9 842.2,627.0 902.2,564.8 929.1,548.9 951.9,557.1 863.1,571.1 863.7,633.2 828.3,592.5 967.9,565.4 962.8,518.2 1012.0,604.1 874.9,573.8 937.8,570.2 843.2,514.0 983.3,602.5 973.6,500.6 882.6,604.2 946.7,466.1 958.7,597.9 980.7,527.0 920.3,561.7 935.4,628.4 834.4,608.2 808.5,622.4 816.8,620.8 990.4,533.0 975.2,498.7 1003.7,579.1 972.7,493.2 896.3,575.0 860.2,553.8 910.4,606.6 846.7,546.2 925.1,617.2 877.6,571.3 887.6,522.2 904.5,614.6 908.6,574.4 877.7,524.1 964.0,503.1 907.1,533.6 971.7,501.9 870.6,519.0 860.7,548.2 961.4,531.7 966.1,636.4 927.3,570.7 899.4,613.0 928.2,622.4 950.6,611.6 955.8,571.5 969.0,585.3 993.9,542.6 870.3,539.0 885.6,535.6 911.6,552.9 854.7,643.1 854.8,558.4 895.6,529.3 867.5,634.7 811.6,645.5 959.9,583.7 936.9,647.7 977.0,540.8 879.2,510.3 992.8,603.7 1000.5,561.0 880.5,579.3 879.1,602.1 898.7,575.7 888.0,654.9 934.6,554.2 843.1,630.8 994.9,583.3 885.3,582.0 948.3,623.2 858.9,605.6 970.6,580.3 960.1,582.8 949.7,504.7 919.7,562.1 917.4,611.2 989.4,613.6 852.2,571.9 940.8,506.7 870.8,608.3 891.1,623.3 973.3,537.9 816.4,629.9 838.2,607.1 927.0,639.9 878.6,527.3 952.0,557.8 945.6,587.8 907.3,502.7 994.1,607.3 980.6,525.7 957.9,540.0 836.2,609.5 860.8,526.1 960.3,546.3 966.4,602.6 916.0,630.2 930.4,604.5 942.8,592.6 977.3,599.0 850.9,613.2 869.6,588.8 842.9,582.0 952.0,564.0 825.0,602.7 898.0,556.5 986.8,543.1 935.0,550.8 890.5,581.6 926.0,513.9 985.0,591.0 833.7,544.5 974.1,590.2 918.8,517.1 872.0,561.5 989.7,561.3 878.3,610.5 880.6,556.2 891.1,627.3 965.5,579.9 867.8,514.3 912.7,646.3 955.4,622.2 834.5,658.2 998.5,636.0 905.9,519.5 1001.8,587.0 934.4,570.2 874.5,564.4 868.1,516.3 981.2,657.0 874.4,513.8 888.0,616.2 944.4,554.8 999.1,619.5 1000.9,533.9 908.1,648.2 942.7,604.3 965.6,537.5 905.9,525.9 985.0,553.4 973.9,505.0 955.6,599.1 873.2,551.8 871.6,514.9 952.6,522.6 917.8,599.2 875.8,535.8 975.3,632.0 953.7,526.7 879.8,526.1 914.4,545.8 916.8,547.0 977.0,551.5 857.7,532.4 978.5,646.0 963.9,584.8 1003.6,598.1 867.0,547.4 875.4,504.6 924.5,585.3 981.3,487.7 952.8,505.5 885.7,575.4 924.0,579.3 865.6,503.1 935.7,512.2 865.1,547.9 967.4,538.8 931.2,607.5 895.0,588.2 852.8,580.4 965.9,558.1 975.8,598.4 868.8,515.5 917.2,611.8 960.7,521.6 908.2,525.9 840.9,641.1 912.2,592.0 1010.6,602.1 937.9,580.6 927.5,571.3 811.1,649.8 877.6,598.3 915.7,658.5 946.5,613.4 992.8,511.1 981.4,519.1 957.4,597.3 897.8,548.5 964.5,556.6 839.9,554.4 842.1,569.0 995.6,641.2 924.7,538.2 986.4,569.4 907.9,526.7 975.4,493.8 936.3,541.7 936.0,515.2 889.2,584.3 948.1,519.2 834.8,603.3 871.0,528.9 892.4,547.1 953.3,504.3 885.3,524.4 899.5,627.8 855.2,591.3 978.4,569.8 891.7,525.4 979.8,538.9 891.7,614.9 948.3,504.6 968.8,547.7 845.6,510.8 940.1,509.6 872.5,513.1 991.8,646.4 857.5,600.5 978.8,652.4 843.0,544.2 979.8,481.3 978.3,574.9 986.0,511.9 946.8,514.4 854.8,599.8 957.7,589.9 994.8,537.4 952.4,600.2 918.6,505.6 961.9,607.6 937.9,550.3 810.7,638.5 861.8,527.4 938.1,581.1 841.5,614.8 1000.6,568.6 891.4,518.8 989.0,541.0 985.7,545.6 995.3,600.3 918.4,644.2 942.9,624.2 849.7,530.6 975.0,516.3 901.6,527.2 840.6,538.1 927.0,598.4 878.3,551.1 839.2,584.9 899.9,633.0 970.8,546.6 850.0,533.0 947.0,579.4 983.9,560.9 1002.9,604.5 885.7,498.5 889.8,587.2 914.1,493.8 825.1,616.4 900.8,620.7 887.4,516.4 988.8,609.1 968.4,575.6 944.9,596.2 936.9,622.6 906.9,598.2 946.8,656.7 914.2,515.3 839.0,604.7 981.3,545.3 942.3,575.1 927.8,506.7 849.4,597.2 978.2,550.8 868.5,524.0 983.7,575.0 903.5,550.4 929.0,601.4 848.0,596.7 865.8,617.9 943.4,592.9 873.4,536.8 923.6,592.1 994.4,504.5 890.5,614.0 1003.0,581.1 962.3,532.3 927.6,552.3 865.7,582.1 866.2,629.9 918.9,578.6 943.1,529.9 956.1,571.9 1000.1,643.3 859.6,607.5 810.9,605.9 891.1,623.2 949.4,519.9 892.7,531.9 998.0,554.0 927.1,611.4 865.6,587.2 934.6,579.5 969.0,526.4 879.7,644.6 869.2,561.7 823.3,571.4 995.2,585.2 884.2,593.6 962.2,490.0 874.2,574.2 942.1,538.6 872.6,573.5 905.5,612.8 979.1,564.3 951.6,527.4 922.7,510.8 899.4,524.9 966.1,539.8 963.0,591.5 964.0,543.3 992.2,553.1 971.6,512.1 934.2,532.9 929.3,588.0 869.9,539.8 866.1,622.0 882.7,605.2 943.1,519.0 956.7,501.7 813.1,602.6 990.6,536.5 918.2,539.0 819.6,650.7 911.2,603.3 852.4,646.1 949.4,585.0 894.2,577.4 927.2,575.3 845.1,532.6 866.5,536.8 987.5,517.6 886.5,527.4 950.7,502.9 926.1,559.7 911.8,533.4 996.0,576.1 868.9,521.1 884.2,603.5 833.4,593.6 1009.0,601.0 912.3,557.1 842.4,611.5 932.7,635.7 974.6,535.0 950.9,531.2 836.4,596.2 881.2,614.6 898.6,601.5 951.5,598.6 833.0,587.3 860.2,541.8 966.3,532.3 917.4,611.4 920.0,619.9 895.9,538.5 817.2,601.2 1011.3,635.7 865.9,571.0 924.8,636.6 880.3,601.1 957.0,561.5 982.2,651.1 859.2,580.9 807.6,621.2 848.8,655.8 946.6,547.4 960.1,542.7 922.3,521.6 827.2,626.9 991.1,573.9 845.7,530.6 949.2,508.8 827.3,587.8 926.1,543.1 978.4,545.6 939.0,588.2 988.4,517.8 969.1,593.1 998.7,629.2 866.5,523.8 943.7,558.5 888.3,571.3 948.2,566.8 931.1,529.6 869.6,602.1 960.3,510.6 974.4,554.9 927.7,598.4 821.5,657.2 898.5,546.7 965.9,499.7 896.7,539.0 985.5,492.6 938.1,526.3 979.7,480.7 888.2,601.3 870.2,526.9 869.2,610.1 955.5,513.7 931.0,550.6 966.4,598.8 868.6,544.6 931.7,563.4 936.7,512.5 829.1,613.3 952.8,566.4 1003.9,627.5 989.3,537.3 880.9,580.2 991.9,521.4 851.0,519.8 861.8,608.0 975.4,529.0 895.7,514.0 1000.0,652.8 853.1,590.9 906.2,654.9 966.5,545.8 978.9,621.6 827.6,603.0 995.1,523.4 874.6,543.4 986.1,597.8 910.4,577.3 871.7,601.2 955.3,590.3 913.2,593.9 882.8,621.6 878.5,544.8 960.1,495.6 872.5,519.1 941.3,512.8 1003.6,611.1 965.8,527.4 854.5,572.9 978.5,528.4 892.7,537.4 863.7,525.2 900.3,585.2 961.9,614.3 819.8,605.0 860.5,589.6 878.0,556.1 857.4,535.0 895.3,542.8 884.6,529.0 886.0,533.9 999.8,561.5 977.9,623.7 845.8,617.4 904.6,613.6 900.2,514.2 942.9,561.2 891.6,509.8 969.5,600.8 922.3,533.2 837.0,593.0 946.3,522.0 949.5,583.7 981.3,486.3 916.7,564.8 985.8,563.5 900.6,508.2 918.4,523.3 922.7,551.1 836.9,565.0 959.4,532.7 881.2,581.2 890.5,583.9 839.7,505.9 912.2,637.0 857.1,506.6 886.4,520.0 985.2,597.0 807.6,612.1 875.6,562.6 928.4,595.9 821.7,582.3 977.1,527.6 948.6,576.6 1006.4,656.0 872.0,511.7 933.3,546.5 847.6,619.4 907.5,618.1 922.3,617.9 921.4,575.0 878.4,577.8 868.6,526.9 836.4,564.1 831.5,603.7 923.9,556.4 834.3,612.1 865.1,610.8 912.4,519.6 1000.7,601.6 931.8,556.8 872.2,513.5 892.8,604.1 953.7,620.5 881.1,624.0 905.9,590.0 972.8,534.3 868.9,573.9 962.7,549.7 998.5,503.6 980.7,529.5 859.6,603.2 943.0,555.9 917.0,511.3 925.0,520.5 877.8,577.5 940.4,536.5 961.1,614.0 838.4,543.1 867.8,506.3 933.1,517.4 963.6,569.6 903.3,595.9 850.7,620.0 884.7,615.5 875.7,582.1 985.4,591.7 838.9,591.9 963.6,634.4 955.5,548.3 914.7,569.0 841.7,645.5 959.0,614.7 902.7,545.6 888.7,514.5 861.0,637.4 929.7,557.6 952.8,501.7 949.4,593.1 838.4,583.1 892.5,580.8 869.2,526.5 824.4,611.6 846.9,600.0 943.6,615.1 832.9,586.9 913.5,522.3 940.2,518.1 905.0,541.4 904.5,609.7 988.7,606.7 889.9,556.3 893.3,583.3 925.8,573.6 973.4,638.1 951.5,522.9 988.5,587.3 937.9,601.4 957.2,555.8 847.4,529.7 883.0,553.3 939.5,598.6 880.3,544.4 875.7,584.7 1003.4,569.2 854.9,651.6 838.0,595.8 906.9,554.5 887.1,520.3 978.5,482.5 975.9,554.2 882.1,523.9 855.7,582.3 967.6,628.7 876.5,514.0 861.6,514.3 1003.1,599.6 953.2,575.7 912.9,529.0 941.9,621.8 977.0,601.3 1001.2,504.1 821.9,602.0 991.1,529.3 997.7,629.3 871.7,513.0 992.4,576.3 955.4,622.5 958.4,524.9 853.7,606.2 921.6,549.3 925.9,634.9 866.2,513.2 884.5,595.1 921.0,644.1 811.0,633.5 878.2,505.4 883.7,517.9 936.0,603.6 918.2,567.0 915.5,567.1 973.0,587.5 909.7,585.8 972.8,564.1 973.2,555.8 903.2,529.5 901.9,557.5 868.6,584.8 1010.7,619.6 911.1,590.3 855.9,521.5 941.5,483.4 864.9,497.1 976.1,460.8 887.6,484.8 885.9,471.2 952.7,485.6 914.3,494.4 889.0,493.5 934.0,466.8 938.3,471.5 941.7,480.3 924.7,494.6 913.4,496.0 906.1,487.8 904.2,501.3 897.2,464.7 881.6,476.3 885.1,492.8 873.2,477.6 977.8,467.2 907.3,496.8 860.1,487.0 870.8,468.0 881.0,462.4 1017.0,516.8 1026.9,499.9 1015.0,524.7 1017.1,519.5 1027.4,506.0 1015.3,519.7 1008.8,506.1 1020.8,502.0 1015.9,489.6 1018.8,501.6 1024.8,511.9 1010.0,530.3 796.6,504.0 822.6,510.3 803.7,497.2 809.4,486.8 1089.3,518.4 1134.1,503.5 1057.7,486.2 1094.6,529.9 1078.7,490.4 1058.4,445.9 1097.0,474.0 1100.3,522.1 1105.0,492.7 1043.8,474.7 1091.7,537.3 1116.4,523.7 1061.3,516.9 1055.7,490.4 1014.6,498.1 1087.2,463.7 1028.2,484.0 1076.7,469.2 1030.4,471.4 1123.8,525.9 1025.8,495.7 1139.6,497.4 1050.3,447.7 1096.5,506.4 1051.2,464.9 1126.4,505.1 1063.0,455.3 1143.7,498.5 1076.3,463.3 1076.7,512.1 1105.7,485.5 1032.0,486.5 1091.8,474.6 1039.8,450.2 1148.6,514.8 1057.8,456.1 1034.4,438.8 1093.3,486.1 1043.7,450.3 1102.2,515.8 1066.4,484.5 1017.9,448.3 1032.0,484.0 1097.9,526.4 1061.1,483.8 1079.3,497.8 1031.6,477.2 1083.4,456.8 1109.6,511.7 1027.7,489.9 1088.8,492.3 1040.7,453.5 1086.5,484.4 1010.6,471.0 1079.8,460.7 1084.6,496.0 1105.6,474.6 1109.8,496.1 1096.1,487.8 1089.0,463.1 1012.6,449.4 1061.8,448.5 1092.5,485.7 1066.6,492.8 1059.1,511.2 1090.5,531.0 1050.2,491.7 1107.6,475.9 1083.9,494.6 1085.3,456.6 1107.8,479.5 1080.6,508.5 1113.1,534.2 1081.3,470.3 1035.5,480.2 1045.8,480.0 1113.1,491.9 1012.3,448.8 1090.7,517.7 1117.9,538.7 1097.2,531.2 1068.8,504.5 1064.4,470.7 1113.7,537.6 1099.8,495.0 1101.3,457.2 1079.2,483.2 1093.6,486.9 1113.6,516.1 1030.9,436.2 1087.7,461.1 1080.9,482.9 1052.7,456.3 1102.0,521.9 1063.6,517.0 1119.7,518.8 1063.8,491.3 1076.4,474.6 1138.4,500.1 1099.3,475.3 1129.8,522.1 1070.9,506.2 1095.6,496.2 1114.2,520.1 1098.3,496.5 1108.3,503.8 1109.8,526.0 1104.3,526.0 1056.8,488.0 1077.8,485.1 1072.8,490.6 1110.9,509.7 1060.4,491.8 1108.3,481.0 1096.1,532.0 1083.8,476.8 1055.2,481.8 1088.6,479.2 1131.7,506.8 1134.7,504.7 1075.8,502.9 1090.4,531.6 1046.8,474.8 1104.2,499.5 1095.1,523.8 1055.2,505.0 1066.0,498.2 1055.6,479.8 1058.9,475.4 1094.6,502.1 1104.4,480.1 1062.8,511.5 1055.4,498.7 1136.1,517.2 1104.1,475.9 1092.8,516.5 1141.1,518.2 1078.2,522.2 1100.5,496.2 1124.8,516.6 1131.7,522.9 1081.1,511.2 1076.9,515.6 1099.3,483.4 1067.2,505.9 1110.0,509.9 1109.4,515.9 1102.7,528.3 1071.8,505.1 1122.7,517.4 1116.5,521.1 1103.4,473.2 1056.4,505.8 1054.2,507.7 1084.8,491.3 1101.5,504.5 1076.5,504.3 1116.2,527.1 1129.3,521.4 1110.7,487.5 1123.5,506.1 1081.2,524.0 1070.6,510.1 1103.3,521.8 1107.2,507.0 1091.4,505.8 1049.9,491.8 1114.4,504.3 1089.8,506.5 1099.7,523.4 1064.8,486.7 1060.4,514.2 1091.1,492.0 1076.1,488.2 1134.9,518.9 1094.4,551.8 1077.2,541.4 1090.3,612.6 1100.3,549.2 1102.0,579.7 1077.7,590.8 1079.7,572.9 1093.1,582.1 1098.2,611.2 1078.6,551.8 1094.8,604.8 1100.7,589.4 1093.3,569.5 1094.6,559.4 1087.5,570.3 1103.0,582.7 1094.8,627.5 1096.7,586.3 1088.9,568.0 1099.2,568.3 1102.1,588.3 1105.8,578.4 1083.0,555.1 1089.5,571.9 1095.0,580.8 1073.8,539.4 1001.3,571.1 994.5,609.3 1001.2,532.9 993.3,554.1 993.3,605.5 1010.3,519.6 993.0,577.3 996.4,524.5 998.7,555.5 999.1,574.2 1005.6,577.7 1000.1,583.2 1010.8,532.8 1002.0,559.4 999.1,589.1 996.8,528.7 993.7,601.0 999.8,540.8 1014.4,526.4 992.8,603.6 1007.6,590.1 992.6,532.4 999.4,516.6 995.9,515.1 993.0,573.6 999.0,522.7 1010.2,518.3 997.8,559.5 1004.3,606.0 1003.4,548.9 1004.2,587.2 1004.0,536.0 1299.8,777.0 1345.0,761.3 1296.2,773.0 1339.8,795.9 1324.6,771.6 1324.7,787.5 1321.4,740.8 1333.5,792.2 1298.6,762.6 1296.9,750.7 1322.3,791.3 1318.4,781.6 1318.6,772.0 1328.8,748.6 1308.8,780.9 1297.8,782.2 1334.4,762.5 1343.6,743.7 1296.7,795.1 1300.2,796.3 1324.1,776.6 1320.3,786.9 1323.0,783.4 1292.1,743.0 1313.4,738.7 1295.6,747.9 1291.0,739.1 1313.2,737.4 1330.4,775.6 1318.5,771.1 1293.5,746.4 1342.4,766.7 1319.6,785.8 1333.2,780.8 1334.3,765.1 1310.1,761.8 1338.7,744.1 1323.4,746.9 1294.3,750.4 1306.8,775.9 1305.3,750.0 1335.6,790.2 1309.0,790.1 1324.8,758.8 1320.5,758.3 1301.2,747.2 1299.7,765.2 1300.1,757.7 1296.2,751.2 1321.5,791.2 1316.0,773.3 1338.4,745.1 1328.6,793.0 1304.0,783.2 1327.5,739.9 1315.8,738.8 1320.4,793.7 1314.8,794.7 1295.0,747.2 1350.1,761.8 1305.7,794.1 1296.3,768.7 1323.8,789.8 1324.9,777.5 1303.8,747.6 1347.9,765.5 1330.2,762.0 1348.7,764.7 1315.2,795.7 1302.9,752.7 1280.9,655.1 1308.3,589.9 1347.0,617.1 1141.8,691.9 1299.5,786.1 1291.2,621.8 1152.1,532.8 1329.6,568.1 1340.9,695.9 1285.1,670.5 1141.6,565.5 1329.0,711.5 1315.2,756.9 1340.7,620.7 1347.4,634.1 1286.5,589.9 1132.9,565.5 1344.4,590.9 1335.8,671.2 1342.9,549.3 1127.9,543.4 1336.0,657.0 1345.6,668.0 1333.7,567.1 1142.0,662.8 1141.4,727.9 1277.5,682.7 1289.2,728.8 1311.9,755.1 1156.9,581.4 1139.9,630.2 1143.3,597.9 1344.2,622.8 1338.1,719.4 1146.0,545.3 1328.4,587.7 1294.4,618.3 1143.7,643.2 1140.2,602.3 1299.2,752.6 1138.1,658.1 1148.5,611.9 1287.5,564.0 1139.6,530.5 1290.4,563.1 1128.9,559.9 1142.2,607.9 1285.9,686.2 1140.7,685.1 1161.3,605.5 1342.0,610.4 1280.5,633.1 1326.0,725.3 1145.7,632.7 1330.4,731.3 1312.7,585.2 1336.2,690.5 1334.2,565.9 1315.0,767.0 1333.4,591.9 1331.2,578.1 1136.1,647.3 1338.0,575.8 1134.0,535.9 1305.8,776.6 1342.5,720.4 1134.2,569.9 1312.4,581.4 1282.9,561.2 1281.8,607.0 1151.4,603.5 1301.5,727.4 1146.0,595.0 1279.6,672.3 1288.7,694.8 1138.6,687.1 1339.5,669.9 1286.7,555.3 1346.7,573.4 1295.7,741.2 1280.2,644.8 1299.8,781.2 1154.5,590.4 1286.3,647.8 1337.0,640.6 1304.4,572.6 1341.1,547.0 1306.2,749.7 1312.0,761.2 1339.7,603.5 1159.2,583.4 1341.7,674.6 1138.6,655.4 1320.2,589.3 1328.7,564.4 1329.5,549.5 1155.6,617.4 1330.1,722.4 1300.4,775.2 1327.9,571.0 1312.3,769.7 1342.7,569.0 1279.4,627.4 1338.2,549.0 1138.9,608.4 1285.5,711.8 1338.2,627.1 1147.3,551.3 1145.9,535.5 1298.6,571.3 1154.9,633.4 1337.9,584.4 1347.2,643.4 1280.8,648.8 1138.5,677.9 1155.6,561.4 1137.3,659.0 1298.1,791.1 1315.6,750.3 1153.3,592.6 1280.4,713.3 1345.1,706.7 1342.8,690.1 1307.8,564.7 1291.7,594.9 1304.5,581.9 1305.7,765.1 1299.9,727.3 1135.9,597.9 1307.3,792.4 1159.1,607.6 1279.6,682.9 1342.0,607.0 1141.4,654.9 1142.6,573.5 1282.6,557.4 1158.9,595.1 1141.5,672.4 1290.3,720.2 1283.0,714.1 1340.8,714.3 1297.3,571.0 1296.9,728.8 1329.1,585.8 1316.8,779.1 1152.5,638.1 1281.5,603.7 1140.7,646.9 1147.0,542.6 1134.8,554.0 1305.5,563.5 1140.6,709.1 1343.6,554.4 1305.7,756.9 1328.0,730.2 1304.0,591.7 1315.6,740.6 1316.6,765.7 1283.1,595.2 1280.2,602.2 1330.5,564.5 1156.1,541.3 1139.7,661.3 1308.1,757.8 1289.5,562.0 1330.6,719.1 1157.2,561.7 1343.2,577.3 1342.5,562.5 1155.0,607.2 1318.8,745.3 1282.5,643.1 1149.9,639.3 1130.4,555.7 1159.8,591.5 1336.8,620.2 1134.9,584.6 1136.7,668.5 1342.6,680.5 1299.3,775.7 1148.9,629.3 1326.1,732.0 1156.1,548.4 1342.7,559.5 1338.4,592.7 1139.2,618.0 1142.3,530.8 1143.1,587.8 1139.8,613.5 1136.2,593.7 1137.3,661.6 1338.7,658.5 1289.0,640.9 1283.3,590.6 1134.7,571.8 1282.5,665.4 1154.5,561.3 1335.1,621.7 1288.7,669.5 1289.2,659.4 1295.2,721.7 1289.8,727.5 1345.5,651.4 1139.2,708.7 1283.0,627.6 1337.5,677.8 1130.6,543.3 1284.1,613.6 1300.5,574.8 1137.0,532.3 1305.5,577.4 1318.8,736.3 1158.5,577.8 1136.2,578.3 1345.8,577.3 1337.9,673.3 1313.1,586.4 1301.2,785.9 1348.1,614.1 1312.4,785.9 1146.7,537.1 1303.2,786.3 1319.2,586.8 1283.5,619.2 1316.3,785.8 1133.8,584.0 1289.5,636.6 1280.1,677.1 1344.0,657.1 1140.3,713.3 1143.6,620.9 1299.2,745.4 1287.9,692.1 1343.2,559.1 1347.4,599.3 1334.3,590.1 1324.4,723.6 1340.8,611.6 1149.9,632.9 1281.0,612.0 1337.9,571.9 1310.4,591.1 1280.8,575.4 1285.7,636.7 1340.0,615.8 1338.8,709.2 1280.9,572.0 1334.9,717.6 1153.6,589.2 1342.9,543.9 1315.0,735.7 1160.4,633.0 1345.9,583.3 1318.3,584.5 1329.9,559.7 1283.1,590.1 1308.9,572.6 1347.3,662.2 1296.6,733.9 1335.3,665.7 1313.6,733.7 1130.4,554.7 1326.1,589.3 1131.3,533.8 1288.8,705.3 1298.8,753.6 1154.1,595.5 1298.7,782.0 1313.1,784.7 1141.6,669.1 1306.5,770.3 1278.4,669.2 1337.2,552.8 1149.3,561.9 1156.5,630.7 1141.3,628.4 1152.8,603.6 1286.8,580.5 1300.4,767.4 1301.4,562.7 1345.5,568.3 1295.4,737.9 1145.8,619.7 1140.1,649.2 1159.8,595.6 1152.5,571.5 1344.4,624.0 1338.5,564.0 1316.4,770.7 1279.2,693.5 1147.5,599.0 1346.8,629.4 1136.6,622.0 1136.0,578.0 1341.2,686.3 1140.9,580.3 1335.6,694.8 1291.1,603.2 1137.5,682.4 1329.8,581.7 1280.2,615.0 1298.1,739.5 1279.5,660.1 1282.2,567.3 1157.4,551.2 1345.8,713.0 1156.6,611.3 1283.0,632.6 1138.9,728.0 1346.1,607.3 1131.8,572.9 1320.2,725.4 1336.3,695.3 1333.5,682.2 1343.8,694.5 1155.0,569.8 1283.0,640.2 1288.4,663.3 1287.2,611.4 1342.9,639.6 1285.0,721.8 1332.5,666.3 1337.9,547.8 1141.0,670.0 1282.7,652.5 1302.3,734.6 1309.7,745.2 1288.1,653.8 1318.5,756.3 1142.1,707.7 1157.8,577.9 1290.1,569.5 1305.2,583.3 1340.1,587.1 1342.5,582.3 1330.4,550.8 1294.0,730.8 1281.6,615.6 1296.9,747.4 1139.2,661.7 1287.5,599.3 1138.1,637.3 1142.2,675.1 1147.1,607.5 1140.0,586.0 1317.3,774.4 1322.5,584.0 1160.3,618.2 1158.4,588.4 1304.3,787.3 1282.9,700.2 1294.6,725.5 1310.1,579.2 1143.0,666.7 1340.8,596.4 1302.5,737.3 1340.6,580.0 1340.5,704.5 1303.4,582.6 1130.9,553.1 1306.3,592.8 1155.8,584.8 1142.9,652.0 1138.3,632.5 1320.0,594.9 1303.4,731.3 1337.7,559.7 1332.1,586.9 1309.5,577.2 1146.5,624.5 1281.7,586.2 1290.8,597.6 1342.1,635.3 1159.8,573.2 1140.0,702.0 1136.8,608.3 1338.6,694.9 1287.6,572.3 1310.1,752.3 1283.1,727.9 1144.7,643.1 1307.5,784.3 1344.1,643.6 1283.5,608.8 1301.0,770.5 1347.9,702.3 1320.0,593.7 1144.0,541.1 1134.5,549.3 1159.8,621.3 1284.0,567.7 1338.1,710.9 1314.4,779.2 1332.6,711.2 1296.8,563.6 1329.1,727.0 1315.9,790.2 1336.4,694.6 1281.2,721.1 1316.6,750.8 1160.7,630.2 1309.3,739.4 1147.5,638.5 1141.2,650.0 1339.7,631.3 1299.3,773.6 1344.3,645.2 1343.8,601.8 1300.0,763.0 1280.4,674.4 1152.3,551.6 1158.0,611.4 1283.7,601.1 1314.8,724.5 1292.2,728.1 1161.4,612.2 1279.3,682.2 1291.1,579.6 1288.2,613.5 1283.5,623.6 1298.3,568.3 1285.3,576.2 1335.4,686.1 1157.4,624.1 1332.7,684.7 1156.4,557.3 1285.4,653.6 1341.5,628.4 1288.3,700.6 1144.9,623.9 1155.0,607.2 1285.7,685.2 1279.9,718.8 1304.0,793.9 1281.7,648.2 1283.7,631.8 1345.7,647.3 1344.7,621.4 1143.4,655.7 1141.7,720.3 1328.7,719.7 1282.4,564.9 1312.6,767.6 1344.9,657.0 1150.6,615.5 1344.5,663.6 1341.7,631.4 1133.0,544.7 1305.8,724.6 1306.1,744.5 1338.8,718.7 1343.2,711.3 1297.8,730.5 1283.8,693.8 1137.7,588.7 1298.1,776.7 1300.6,751.9 1141.4,727.8 1139.2,558.8 1130.9,560.5 1281.2,637.6 1138.2,644.2 1292.4,572.6 1137.6,712.0 1299.3,791.1 1317.6,759.0 1300.8,761.4 1311.4,776.7 1278.7,663.3 1153.4,549.2 1281.0,582.2 1310.0,575.9 1147.9,630.4 1338.6,644.6 1291.9,560.7 1141.4,590.5 1347.3,718.5 1149.7,574.0 1343.5,596.6 1302.2,741.9 1331.2,550.2 1280.6,694.6 1133.5,531.4 1140.0,717.9 1329.0,553.5 1337.4,544.8 1311.0,742.4 1287.5,603.3 1345.1,567.9 1303.5,782.3 1315.7,785.1 1136.6,653.2 1339.1,553.3 1282.7,554.9 1347.4,652.7 1346.4,593.1 1284.6,684.6 1137.5,576.3 1140.5,642.3 1133.8,540.6 1284.0,730.0 1156.2,621.5 1278.9,709.2 1344.9,604.7 1137.1,651.4 1150.2,562.5 1139.3,703.2 1148.7,536.6 1348.0,608.1 1328.8,595.1 1157.2,586.8 1309.9,727.5 1159.4,595.8 1342.1,670.6 1287.0,601.1 1138.1,598.8 1336.9,685.3 1290.1,574.6 1285.6,707.8 1312.6,590.8 1280.5,726.4 1155.8,556.5 1283.0,665.1 1155.9,567.4 1140.6,535.5 1311.9,728.5 1283.7,677.3 1344.0,659.2 1141.1,715.9 1341.7,702.2 1140.7,537.9 1139.2,702.6 1329.2,574.9 1136.8,671.8 1343.7,574.5 1339.4,677.6 1298.4,756.6 1282.6,673.8 1137.4,566.6 1128.0,538.2 1289.6,582.6 1291.4,569.7 1157.2,561.7 1290.2,628.1 1136.1,626.6 1336.8,600.4 1287.5,591.0 1156.2,567.6 1141.3,603.6 1288.0,675.9 1137.7,693.8 1289.2,560.7 1142.2,682.2 1137.9,698.0 1134.0,588.1 1155.3,627.5 1333.9,570.8 1306.8,567.6 1346.5,688.8 1140.1,695.9 1139.3,601.9 1289.4,616.0 1290.2,587.5 1310.7,771.0 1335.6,673.6 1133.8,573.0 1157.0,618.4 1341.6,578.5 1332.8,723.4 1142.9,712.2 1310.3,790.4 1142.0,624.3 1305.1,569.3 1282.3,595.6 1332.5,556.4 1129.7,545.4 1284.9,617.0 1310.1,782.3 1339.4,554.3 1335.3,724.2 1280.3,657.1 1346.5,706.1 1283.3,718.4 1335.6,728.5 1137.2,538.1 1284.0,664.7 1146.4,602.0 1348.4,693.7 1280.2,704.0 1153.1,621.1 1136.1,564.4 1149.7,569.5 1280.5,706.4 1339.0,655.0 1153.5,537.2 1337.3,665.9 1341.5,603.4 1149.3,529.3 1303.9,587.7 1153.9,575.4 1304.2,748.8 1287.5,651.6 1343.0,563.1 1342.2,613.3 1316.4,592.6 1318.7,740.7 1298.6,756.9 1300.0,768.3 1328.8,554.0 1159.3,568.0 1149.7,556.2 1285.3,586.1 1278.8,699.5 1160.2,623.2 1303.1,765.5 1131.1,567.2 1160.2,628.3 1139.0,722.7 1134.0,577.4 1287.5,681.0 1152.4,636.2 1338.3,591.4 1310.4,762.8 1314.5,746.6 1337.8,640.1 1286.7,717.7 1316.9,731.7 1152.5,581.2 1148.2,570.2 1346.4,639.6 1341.7,684.5 1321.0,730.9 1341.7,642.7 1315.9,731.0 1138.6,612.7 1297.7,722.0 1159.7,602.7 1344.5,671.8 1138.7,634.1 1314.4,793.0 1127.7,548.2 1158.8,635.5 1279.5,652.5 1285.4,620.2 1283.5,705.5 1135.9,558.4 1344.2,544.5 1334.5,582.3 1339.2,540.8 1285.6,727.9 1281.5,660.2 1286.7,697.9 1153.6,537.9 1347.8,589.5 1141.0,638.9 1301.0,568.4 1339.2,652.6 1347.0,616.0 1280.9,688.7 1347.8,697.3 1332.3,710.8 1132.1,564.0 1297.4,782.1 374.8,439.5 375.2,440.0 465.2,444.8 480.2,441.5 532.0,445.5 539.2,393.5 582.5,446.0 583.0,445.5 602.0,452.8 613.0,445.5 617.0,447.2 615.0,446.5 631.2,453.5 640.5,448.5 647.5,394.2 670.0,454.5 709.4,395.3 748.6,399.8 782.0,402.9 781.6,402.5 782.3,403.3 809.5,404.4 840.1,444.4 670.3,454.6 684.6,451.3 685.3,460.4 697.1,453.3 699.9,463.3 697.4,456.6 698.2,459.1 713.2,454.6 714.0,464.1 712.4,459.1 712.9,456.6 725.7,457.4 727.3,465.8 725.7,474.9 735.7,478.2 746.5,457.4 748.1,467.4 747.3,462.4 747.8,459.9 758.1,460.8 758.9,464.9 763.9,479.9 769.8,472.4 773.9,471.6 776.4,471.6 778.9,471.2 781.4,470.7 776.4,474.9 776.4,481.6 772.2,497.4 775.1,497.2 778.1,496.5 783.1,474.9 788.0,472.9 791.4,473.2 793.9,473.6 796.4,472.4 798.9,472.9 801.4,472.4 799.7,479.9 796.4,479.9 804.7,483.2 808.0,484.9 791.4,493.2 794.7,489.0 796.4,496.5 797.2,501.5 799.4,508.2 826.3,484.9 818.0,493.2 819.6,503.2 831.3,498.2 832.1,503.2 829.6,511.5 817.2,514.8 818.0,519.8 810.5,522.3 826.3,521.5 822.1,516.5 843.4,444.5 816.3,576.4 816.3,593.8 818.0,607.1 813.8,631.3 842.9,486.5 848.8,491.5 852.1,494.0 864.6,473.2 872.9,469.9 882.9,458.3 874.5,474.1 879.5,471.6 871.2,483.2 879.5,484.9 866.2,494.9 859.6,496.5 838.8,517.3 842.9,508.2 849.6,509.8 843.2,444.6 895.1,448.0 905.6,431.7 996.2,479.6 1024.5,439.1 1012.9,456.6 1022.9,454.9 1012.0,467.4 1022.9,465.8 1024.5,478.2 1009.5,495.7 996.2,501.5 1022.0,546.4 1027.8,513.2 840.7,653.2 828.3,664.0 837.4,669.9 844.9,671.5 834.1,678.2 834.9,680.7 865.7,664.9 865.7,671.5 856.5,679.8 856.2,685.7 856.5,691.5 877.3,670.7 891.5,663.2 904.8,660.7 904.8,666.5 914.7,669.0 916.4,651.6 933.9,655.7 938.9,670.7 946.3,664.9 960.5,665.4 987.1,658.2 982.9,655.7 1004.6,656.5 1005.4,648.2 896.4,676.5 886.5,687.3 893.1,694.8 898.1,703.1 896.4,701.5 905.6,688.2 918.6,683.2 915.6,706.4 943.0,692.3 954.3,701.5 973.5,703.1 972.5,712.8 976.3,673.2 976.3,683.2 987.1,677.3 995.4,678.2 1000.4,688.2 894.8,718.1 893.5,732.2 893.8,732.6 855.7,726.4 845.4,737.2 810.5,744.4 861.5,760.5 817.4,769.3 814.4,787.4 923.4,726.4 953.5,720.1 947.2,738.0 947.5,738.4 959.6,743.0 971.6,735.1 976.6,748.0 976.6,752.2 942.7,751.0 932.2,761.0 1007.6,770.0 1000.4,777.1 935.5,808.7 986.3,803.7 935.2,811.2 935.8,811.8 986.0,805.0 986.5,805.5 979.0,814.0 1008.2,818.2 1007.0,842.2 848.2,854.5 848.2,858.2 848.2,862.5 913.2,875.2 848.2,893.2 977.0,908.2 1008.2,912.0 976.0,747.5 976.0,751.5 971.0,735.2 959.0,743.2 946.5,737.5 947.0,738.0 942.2,751.2 932.2,761.2 1007.0,770.2 1000.2,777.2 933.4,992.5 981.5,995.5 996.7,479.5 995.8,502.3 1023.3,548.4 1052.4,570.5 1037.4,526.4 1028.3,512.3 1120.6,614.3 1116.4,556.4 1118.9,568.0 1159.6,604.6 1102.3,602.1 1076.5,593.8 1071.5,630.1 1010.0,495.7 1029.1,499.5 1071.5,631.3 1088.1,610.0 1089.8,615.8 1089.0,625.8 1098.9,621.6 1099.8,631.6 1098.1,641.6 1098.1,647.4 1120.6,614.5 1102.3,603.3 1126.4,641.2 1115.6,655.4 1089.5,690.3 1152.2,648.2 1161.3,656.5 1154.7,668.2 1150.5,674.8 1131.4,679.8 1128.9,695.6 1148.8,697.0 1128.0,711.4 1161.3,708.4 1153.5,731.4 1136.4,732.2 1138.5,739.7 1113.4,755.5 1137.2,758.0 1140.5,767.5 1142.5,790.4 998.3,606.7 1000.0,605.0 996.7,608.3 1000.0,623.3 996.7,622.5 1003.3,622.5 1006.6,621.6 1000.8,638.3 1005.8,648.2 1004.6,657.4 1005.0,653.2 990.0,659.0 995.0,678.2 1000.5,688.7 1007.5,770.5 1000.5,777.6 1156.3,605.0 1159.6,616.6 1161.3,629.9 1089.2,690.2 1129.2,695.0 1148.0,697.5 1128.5,711.2 1161.2,708.2 1134.2,732.0 1153.0,731.2 1138.5,740.0 1113.5,755.2 1137.2,757.8 1140.5,767.5 1142.5,790.2 1088.5,886.2 1136.2,953.2 1134.2,728.2 1306.3,553.7 1306.3,558.1 1338.6,530.7 1320.1,574.6 1320.1,579.8 1327.7,549.5 1327.7,554.4 1281.3,788.7 1281.3,793.0 1281.3,797.3 1281.3,805.4 1296.8,786.8 1306.7,786.2 1315.4,786.2 1325.3,784.3 1335.2,784.9 1296.2,798.6 1305.5,797.3 1314.1,798.6 1324.0,796.1 1332.7,798.6 1338.9,797.9 1303.0,804.7 1314.1,803.5 1326.5,804.7 1335.2,806.6 1330.2,809.7 1329.0,813.4 1304.8,812.2 1315.4,817.7 1295.6,822.7 1304.8,822.7 1327.1,827.0 1285.1,830.7 1293.1,834.4 1304.2,832.0 1309.2,831.3 1304.2,838.1 1306.5,849.3 1327.4,850.3 1296.2,856.7 1298.0,861.6 1299.3,866.6 1281.3,864.5 1327.4,867.2 1293.1,874.6 1299.3,871.5 1324.4,878.4 1305.7,879.0 1306.1,887.6 1306.3,887.9 1301.4,901.2 1313.5,915.5 1313.8,915.7 1331.4,916.7 1331.4,924.7 1300.5,791.1 1310.4,792.4 1319.1,791.1 1329.0,791.1 1309.2,804.7 1319.1,798.6 1321.5,802.3 1326.5,799.8 1329.0,802.3 1331.4,803.5 1324.0,807.2 1300.5,794.8 1309.2,787.4 1320.3,786.2 1301.4,901.2 1313.5,915.5 1313.8,915.7 1331.4,917.3 1331.4,924.5 1301.1,930.9 1304.2,930.9 1307.9,930.9 1301.8,931.5 1307.3,935.9 1299.3,933.4 1305.5,934.0 1296.2,946.4 1301.1,943.9 1304.2,943.3 1314.4,958.4 1303.2,972.4 1306.3,977.3 1330.2,987.5" fill="none" stroke="none" marker-start="url(#ms)" marker-mid="url(#ms)" marker-end="url(#ms)"/>
</g>
<g stroke="#000" stroke-width="4" fill="none" stroke-linecap="butt">
<path d="M450 1016v-12M450 59v12"/>
<path d="M576 1016v-12M576 59v12"/>
<path d="M665 1016v-12M665 59v12"/>
<path d="M735 1016v-12M735 59v12"/>
<path d="M791 1016v-12M791 59v12"/>
<path d="M839 1016v-12M839 59v12"/>
<path d="M881 1016v-12M881 59v12"/>
<path d="M918 1016v-12M918 59v12"/>
<path d="M950 1016v-20M950 59v20"/>
<path d="M1166 1016v-12M1166 59v12"/>
<path d="M1292 1016v-12M1292 59v12"/>
<path d="M1381 1016v-12M1381 59v12"/>
<path d="M326 1006h12M1395 1006h-12"/>
<path d="M326 997h20M1395 997h-20"/>
<path d="M326 937h12M1395 937h-12"/>
<path d="M326 902h12M1395 902h-12"/>
<path d="M326 878h12M1395 878h-12"/>
<path d="M326 858h12M1395 858h-12"/>
<path d="M326 843h12M1395 843h-12"/>
<path d="M326 829h12M1395 829h-12"/>
<path d="M326 818h12M1395 818h-12"/>
<path d="M326 808h12M1395 808h-12"/>
<path d="M326 798h20M1395 798h-20"/>
<path d="M326 739h12M1395 739h-12"/>
<path d="M326 704h12M1395 704h-12"/>
<path d="M326 679h12M1395 679h-12"/>
<path d="M326 660h12M1395 660h-12"/>
<path d="M326 644h12M1395 644h-12"/>
<path d="M326 631h12M1395 631h-12"/>
<path d="M326 619h12M1395 619h-12"/>
<path d="M326 609h12M1395 609h-12"/>
<path d="M326 600h20M1395 600h-20"/>
<path d="M326 540h12M1395 540h-12"/>
<path d="M326 505h12M1395 505h-12"/>
<path d="M326 480h12M1395 480h-12"/>
<path d="M326 461h12M1395 461h-12"/>
<path d="M326 445h12M1395 445h-12"/>
<path d="M326 432h12M1395 432h-12"/>
<path d="M326 420h12M1395 420h-12"/>
<path d="M326 410h12M1395 410h-12"/>
<path d="M326 401h20M1395 401h-20"/>
<path d="M326 341h12M1395 341h-12"/>
<path d="M326 306h12M1395 306h-12"/>
<path d="M326 281h12M1395 281h-12"/>
<path d="M326 262h12M1395 262h-12"/>
<path d="M326 246h12M1395 246h-12"/>
<path d="M326 233h12M1395 233h-12"/>
<path d="M326 222h12M1395 222h-12"/>
<path d="M326 211h12M1395 211h-12"/>
<path d="M326 202h20M1395 202h-20"/>
<path d="M326 143h12M1395 143h-12"/>
<path d="M326 108h12M1395 108h-12"/>
<path d="M326 83h12M1395 83h-12"/>
<path d="M326 64h12M1395 64h-12"/>
</g>
<rect x="326" y="59" width="1069" height="957" fill="none" stroke="#000" stroke-width="4"/>
<rect x="351.2" y="84.2" width="386.8" height="150.4" fill="#fff" stroke="#8c8c8c" stroke-width="1.9"/>
<circle cx="396.5" cy="125.3" r="5.55" fill="none" stroke="#1f77b4" stroke-width="2.2"/>
<rect x="391.45" y="183.45" width="10.1" height="10.1" fill="none" stroke="#ff7f0e" stroke-width="2.4"/>
<text x="441" y="143" font-size="51.8" textLength="262" lengthAdjust="spacingAndGlyphs">3ph(300K)</text>
<text x="441" y="206.1" font-size="51.8" textLength="278" lengthAdjust="spacingAndGlyphs">L=1000nm</text>
<text x="166" y="225.0" font-size="61.5" textLength="72" lengthAdjust="spacingAndGlyphs">10</text>
<text x="239.7" y="201.4" font-size="45" textLength="30.4" lengthAdjust="spacingAndGlyphs">−</text><text x="273.7" y="201.4" font-size="45" textLength="24.3" lengthAdjust="spacingAndGlyphs">1</text>
<text x="166" y="424.0" font-size="61.5" textLength="72" lengthAdjust="spacingAndGlyphs">10</text>
<text x="239.7" y="400.4" font-size="45" textLength="30.4" lengthAdjust="spacingAndGlyphs">−</text><text x="273.7" y="400.4" font-size="45" textLength="24.3" lengthAdjust="spacingAndGlyphs">2</text>
<text x="166" y="623.0" font-size="61.5" textLength="72" lengthAdjust="spacingAndGlyphs">10</text>
<text x="239.7" y="599.4" font-size="45" textLength="30.4" lengthAdjust="spacingAndGlyphs">−</text><text x="273.7" y="599.4" font-size="45" textLength="24.3" lengthAdjust="spacingAndGlyphs">3</text>
<text x="166" y="821.0" font-size="61.5" textLength="72" lengthAdjust="spacingAndGlyphs">10</text>
<text x="239.7" y="797.4" font-size="45" textLength="30.4" lengthAdjust="spacingAndGlyphs">−</text><text x="273.7" y="797.4" font-size="45" textLength="24.3" lengthAdjust="spacingAndGlyphs">4</text>
<text x="166" y="1020.0" font-size="61.5" textLength="72" lengthAdjust="spacingAndGlyphs">10</text>
<text x="239.7" y="996.4" font-size="45" textLength="30.4" lengthAdjust="spacingAndGlyphs">−</text><text x="273.7" y="996.4" font-size="45" textLength="24.3" lengthAdjust="spacingAndGlyphs">5</text>
<text x="902" y="1090.8" font-size="61.5" textLength="74" lengthAdjust="spacingAndGlyphs">10</text>
<text x="976.5" y="1067.0" font-size="45" textLength="24.3" lengthAdjust="spacingAndGlyphs">2</text>
<text x="601" y="1191.7" font-size="61.5" textLength="305" lengthAdjust="spacingAndGlyphs">Frequency</text>
<text x="927" y="1191.7" font-size="61.5" textLength="112" lengthAdjust="spacingAndGlyphs">(cm</text>
<text x="1040.7" y="1168.4" font-size="45" textLength="30.4" lengthAdjust="spacingAndGlyphs">−</text><text x="1074.7" y="1168.4" font-size="45" textLength="24.3" lengthAdjust="spacingAndGlyphs">1</text>
<text x="1103.5" y="1191.7" font-size="61.5" textLength="19.5" lengthAdjust="spacingAndGlyphs">)</text>
<g transform="translate(112 0) rotate(-90)">
<text x="-861" y="0" font-size="61.5" textLength="299.5" lengthAdjust="spacingAndGlyphs">Scattering</text>
<text x="-541" y="0" font-size="61.5" textLength="131" lengthAdjust="spacingAndGlyphs">Rate</text>
<text x="-387" y="0" font-size="61.5" textLength="88" lengthAdjust="spacingAndGlyphs">(ps</text>
<text x="-295" y="-21.9" font-size="45" textLength="30.4" lengthAdjust="spacingAndGlyphs">−</text><text x="-261" y="-21.9" font-size="45" textLength="24.3" lengthAdjust="spacingAndGlyphs">1</text>
<text x="-233.5" y="0" font-size="61.5" textLength="19" lengthAdjust="spacingAndGlyphs">)</text>
</g>
</svg>
</body></html>
